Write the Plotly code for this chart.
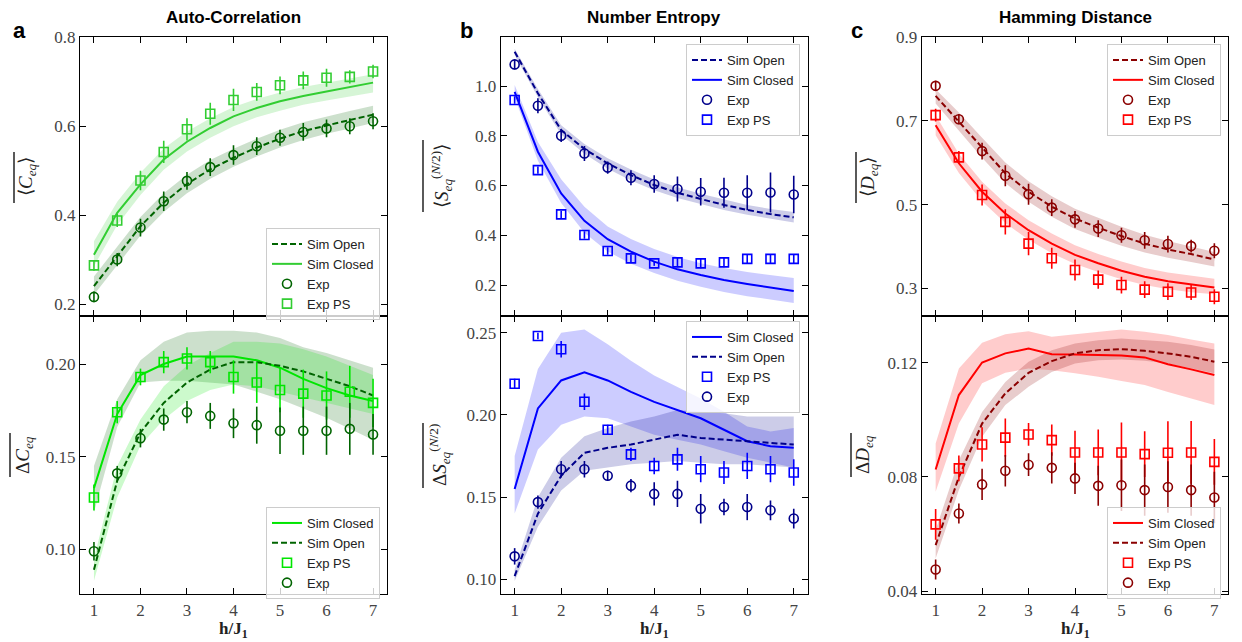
import plotly.graph_objects as go

# page body has an 8px default margin: size the figure to fill the rest of the window
OFF = 8
W, H = 1242 - OFF, 642 - OFF

# ---------------- data ----------------
h = [1, 1.5, 2, 2.5, 3, 3.5, 4, 4.5, 5, 5.5, 6, 6.5, 7]

# Panel a (Auto-Correlation)
a_top_exp = [0.216, 0.300, 0.372, 0.431, 0.477, 0.508, 0.535, 0.555, 0.574, 0.587, 0.595, 0.600, 0.611]
a_top_exp_err = [0.012, 0.015, 0.02, 0.022, 0.02, 0.02, 0.022, 0.02, 0.018, 0.02, 0.02, 0.018, 0.018]
a_top_ps = [0.287, 0.388, 0.478, 0.542, 0.593, 0.628, 0.659, 0.677, 0.692, 0.703, 0.709, 0.711, 0.723]
a_top_ps_err = [0.012, 0.015, 0.022, 0.025, 0.025, 0.025, 0.025, 0.02, 0.02, 0.02, 0.02, 0.015, 0.015]
a_top_closed = [0.311, 0.405, 0.469, 0.525, 0.565, 0.596, 0.622, 0.641, 0.656, 0.668, 0.678, 0.688, 0.698]
a_top_closed_lo = [0.285, 0.378, 0.445, 0.502, 0.543, 0.574, 0.600, 0.620, 0.635, 0.648, 0.658, 0.667, 0.676]
a_top_closed_hi = [0.341, 0.430, 0.495, 0.550, 0.588, 0.618, 0.643, 0.661, 0.676, 0.688, 0.698, 0.707, 0.717]
a_top_open = [0.240, 0.307, 0.375, 0.428, 0.470, 0.503, 0.529, 0.552, 0.572, 0.589, 0.602, 0.614, 0.626]
a_top_open_lo = [0.221, 0.287, 0.354, 0.407, 0.449, 0.482, 0.509, 0.532, 0.552, 0.569, 0.583, 0.595, 0.607]
a_top_open_hi = [0.262, 0.328, 0.396, 0.449, 0.491, 0.524, 0.549, 0.572, 0.592, 0.609, 0.622, 0.634, 0.646]

a_bot_ps = [0.128, 0.174, 0.193, 0.201, 0.203, 0.201, 0.193, 0.190, 0.186, 0.184, 0.183, 0.185, 0.179]
a_bot_ps_err = [0.007, 0.006, 0.0045, 0.006, 0.006, 0.006, 0.009, 0.011, 0.012, 0.013, 0.013, 0.014, 0.013]
a_bot_exp = [0.099, 0.141, 0.160, 0.170, 0.174, 0.172, 0.168, 0.167, 0.164, 0.164, 0.164, 0.165, 0.162]
a_bot_exp_err = [0.005, 0.004, 0.005, 0.006, 0.006, 0.007, 0.008, 0.010, 0.0125, 0.013, 0.013, 0.014, 0.011]
a_bot_closed = [0.133, 0.173, 0.194, 0.200, 0.204, 0.204, 0.204, 0.202, 0.198, 0.192, 0.187, 0.183, 0.180]
a_bot_closed_lo = [0.120, 0.166, 0.190, 0.191, 0.191, 0.190, 0.189, 0.185, 0.181, 0.176, 0.171, 0.165, 0.159]
a_bot_closed_hi = [0.145, 0.181, 0.202, 0.212, 0.217, 0.218, 0.218, 0.217, 0.214, 0.209, 0.206, 0.202, 0.198]
a_bot_open = [0.089, 0.137, 0.163, 0.179, 0.190, 0.197, 0.201, 0.201, 0.199, 0.196, 0.192, 0.188, 0.183]
a_bot_open_lo = [0.083, 0.128, 0.156, 0.170, 0.180, 0.186, 0.189, 0.188, 0.185, 0.182, 0.179, 0.176, 0.173]
a_bot_open_hi = [0.095, 0.145, 0.170, 0.188, 0.199, 0.206, 0.212, 0.212, 0.211, 0.208, 0.204, 0.199, 0.194]

# Panel b (Number Entropy)
b_top_exp = [1.087, 0.921, 0.800, 0.729, 0.672, 0.631, 0.606, 0.586, 0.575, 0.571, 0.571, 0.572, 0.564]
b_top_exp_err = [0.02, 0.03, 0.025, 0.03, 0.025, 0.03, 0.035, 0.05, 0.055, 0.06, 0.07, 0.08, 0.075]
b_top_ps = [0.944, 0.662, 0.484, 0.401, 0.337, 0.307, 0.287, 0.291, 0.287, 0.291, 0.305, 0.305, 0.305]
b_top_ps_err = [0.015, 0.015, 0.015, 0.015, 0.015, 0.015, 0.01, 0.02, 0.02, 0.02, 0.02, 0.02, 0.02]
b_top_open = [1.138, 0.971, 0.823, 0.747, 0.689, 0.642, 0.602, 0.571, 0.546, 0.522, 0.502, 0.485, 0.472]
b_top_open_lo = [1.125, 0.955, 0.805, 0.728, 0.667, 0.620, 0.581, 0.550, 0.526, 0.502, 0.483, 0.466, 0.451]
b_top_open_hi = [1.150, 0.988, 0.842, 0.767, 0.710, 0.664, 0.624, 0.593, 0.567, 0.543, 0.522, 0.506, 0.494]
b_top_closed = [0.977, 0.736, 0.568, 0.458, 0.384, 0.334, 0.294, 0.263, 0.240, 0.220, 0.204, 0.191, 0.176]
b_top_closed_lo = [0.955, 0.700, 0.530, 0.410, 0.335, 0.285, 0.248, 0.217, 0.193, 0.172, 0.155, 0.142, 0.128]
b_top_closed_hi = [1.004, 0.775, 0.625, 0.515, 0.435, 0.385, 0.345, 0.313, 0.288, 0.268, 0.252, 0.240, 0.228]

b_bot_ps = [0.219, 0.248, 0.240, 0.208, 0.191, 0.176, 0.169, 0.173, 0.167, 0.165, 0.169, 0.167, 0.165]
b_bot_ps_err = [0.003, 0.002, 0.005, 0.005, 0.003, 0.004, 0.005, 0.007, 0.008, 0.007, 0.008, 0.008, 0.008]
b_bot_exp = [0.114, 0.147, 0.167, 0.167, 0.163, 0.157, 0.152, 0.152, 0.143, 0.144, 0.144, 0.142, 0.137]
b_bot_exp_err = [0.005, 0.004, 0.005, 0.005, 0.003, 0.004, 0.007, 0.008, 0.009, 0.005, 0.008, 0.006, 0.006]
b_bot_closed = [0.155, 0.204, 0.221, 0.226, 0.221, 0.214, 0.208, 0.203, 0.198, 0.191, 0.184, 0.181, 0.180]
b_bot_closed_lo = [0.140, 0.179, 0.194, 0.199, 0.198, 0.193, 0.188, 0.185, 0.182, 0.178, 0.174, 0.171, 0.168]
b_bot_closed_hi = [0.175, 0.228, 0.250, 0.252, 0.243, 0.233, 0.224, 0.217, 0.210, 0.202, 0.193, 0.190, 0.192]
b_bot_open = [0.102, 0.140, 0.163, 0.177, 0.180, 0.182, 0.185, 0.188, 0.186, 0.185, 0.184, 0.183, 0.182]
b_bot_open_lo = [0.099, 0.132, 0.154, 0.166, 0.168, 0.170, 0.171, 0.172, 0.171, 0.170, 0.170, 0.169, 0.168]
b_bot_open_hi = [0.106, 0.150, 0.174, 0.187, 0.192, 0.196, 0.199, 0.203, 0.202, 0.201, 0.199, 0.199, 0.199]

# Panel c (Hamming Distance)
c_top_exp = [0.784, 0.704, 0.628, 0.569, 0.525, 0.493, 0.465, 0.443, 0.427, 0.415, 0.406, 0.401, 0.390]
c_top_exp_err = [0.012, 0.012, 0.02, 0.025, 0.025, 0.02, 0.02, 0.02, 0.018, 0.02, 0.02, 0.015, 0.018]
c_top_ps = [0.714, 0.613, 0.523, 0.459, 0.407, 0.372, 0.344, 0.321, 0.308, 0.297, 0.292, 0.290, 0.280]
c_top_ps_err = [0.015, 0.015, 0.025, 0.03, 0.028, 0.025, 0.025, 0.022, 0.02, 0.02, 0.02, 0.018, 0.018]
c_top_open = [0.760, 0.698, 0.635, 0.575, 0.531, 0.495, 0.467, 0.445, 0.425, 0.407, 0.393, 0.382, 0.369]
c_top_open_lo = [0.742, 0.676, 0.612, 0.552, 0.507, 0.471, 0.442, 0.421, 0.402, 0.386, 0.373, 0.363, 0.352]
c_top_open_hi = [0.776, 0.720, 0.660, 0.601, 0.556, 0.520, 0.490, 0.468, 0.447, 0.428, 0.413, 0.400, 0.387]
c_top_closed = [0.690, 0.599, 0.531, 0.479, 0.439, 0.407, 0.380, 0.360, 0.342, 0.328, 0.317, 0.309, 0.302]
c_top_closed_lo = [0.666, 0.576, 0.508, 0.456, 0.416, 0.384, 0.358, 0.339, 0.322, 0.308, 0.298, 0.291, 0.286]
c_top_closed_hi = [0.714, 0.622, 0.555, 0.503, 0.463, 0.431, 0.403, 0.382, 0.364, 0.349, 0.338, 0.330, 0.323]

c_bot_ps = [0.0634, 0.083, 0.0914, 0.0938, 0.0949, 0.0929, 0.0886, 0.0886, 0.0886, 0.088, 0.0885, 0.0886, 0.0853]
c_bot_ps_err = [0.0054, 0.0045, 0.006, 0.0067, 0.004, 0.0055, 0.0076, 0.008, 0.0105, 0.008, 0.011, 0.011, 0.008]
c_bot_exp = [0.0476, 0.0672, 0.0774, 0.0822, 0.0843, 0.0832, 0.0795, 0.0769, 0.0771, 0.0754, 0.0765, 0.0754, 0.0728]
c_bot_exp_err = [0.0035, 0.0035, 0.0055, 0.0055, 0.004, 0.0055, 0.0055, 0.007, 0.009, 0.009, 0.009, 0.009, 0.009]
c_bot_closed = [0.0826, 0.1087, 0.1201, 0.1233, 0.125, 0.123, 0.1229, 0.1227, 0.1226, 0.1219, 0.1195, 0.1177, 0.1157]
c_bot_closed_lo = [0.0748, 0.0987, 0.1128, 0.1165, 0.118, 0.1174, 0.1163, 0.1151, 0.1136, 0.1122, 0.1098, 0.1075, 0.1052]
c_bot_closed_hi = [0.0917, 0.118, 0.127, 0.130, 0.1311, 0.1291, 0.130, 0.1309, 0.1317, 0.1309, 0.1297, 0.1282, 0.1268]
c_bot_open = [0.0561, 0.080, 0.0987, 0.1093, 0.1165, 0.1206, 0.1233, 0.1244, 0.1248, 0.1242, 0.1233, 0.1221, 0.1204]
c_bot_open_lo = [0.0514, 0.0754, 0.0941, 0.1052, 0.1116, 0.1168, 0.1198, 0.1209, 0.1212, 0.1207, 0.1198, 0.118, 0.1163]
c_bot_open_hi = [0.0614, 0.0859, 0.1028, 0.1133, 0.1204, 0.1244, 0.1268, 0.1279, 0.1285, 0.1279, 0.1274, 0.1262, 0.1247]

x_ticks = [1, 2, 3, 4, 5, 6, 7]
titles = ["Auto-Correlation", "Number Entropy", "Hamming Distance"]
letters = ["a", "b", "c"]

# ---------------- layout helpers (window pixels -> paper fractions) ----------------
def px_x(p):
    return (p - OFF) / W

def px_y(p):
    return 1 - (p - OFF) / H

col_px = [(80, 387), (500.7, 807.7), (921.7, 1228.3)]
row_px = [(37.3, 316), (316, 594)]

SERIF = "Liberation Serif"
SANS = "Liberation Sans"

fig = go.Figure()

def axis_names(col, row):
    i = row * 3 + col + 1
    return ("x" if i == 1 else f"x{i}"), ("y" if i == 1 else f"y{i}"), i

def add_band(col, row, lo, hi, fillcolor):
    xa, ya, _ = axis_names(col, row)
    fig.add_trace(go.Scatter(x=h, y=lo, mode="lines", line=dict(width=0), hoverinfo="skip",
                             showlegend=False, xaxis=xa, yaxis=ya))
    fig.add_trace(go.Scatter(x=h, y=hi, mode="lines", line=dict(width=0), fill="tonexty",
                             fillcolor=fillcolor, hoverinfo="skip", showlegend=False,
                             xaxis=xa, yaxis=ya))

def add_line(col, row, y, color, dash, name, legend):
    xa, ya, _ = axis_names(col, row)
    fig.add_trace(go.Scatter(x=h, y=y, mode="lines", name=name, legend=legend,
                             line=dict(color=color, width=2, dash=dash),
                             xaxis=xa, yaxis=ya))

def add_exp(col, row, y, err, color, symbol, name, legend):
    xa, ya, _ = axis_names(col, row)
    fig.add_trace(go.Scatter(x=h, y=y, mode="markers", name=name, legend=legend,
                             marker=dict(symbol=symbol, size=9, color=color,
                                         line=dict(color=color, width=1.6)),
                             error_y=dict(type="data", array=err, visible=True, color=color,
                                          thickness=1.6, width=0),
                             xaxis=xa, yaxis=ya))

DASH = "6px,3px"

# ---- Panel a ----
a_dark, a_light, a_bright = "#006400", "#32cd32", "#00e600"
add_band(0, 0, a_top_closed_lo, a_top_closed_hi, "rgba(50,205,50,0.2)")
add_band(0, 0, a_top_open_lo, a_top_open_hi, "rgba(0,100,0,0.2)")
add_line(0, 0, a_top_open, a_dark, DASH, "Sim Open", "legend")
add_line(0, 0, a_top_closed, a_light, "solid", "Sim Closed", "legend")
add_exp(0, 0, a_top_exp, a_top_exp_err, a_dark, "circle-open", "Exp", "legend")
add_exp(0, 0, a_top_ps, a_top_ps_err, a_light, "square-open", "Exp PS", "legend")

add_band(0, 1, a_bot_closed_lo, a_bot_closed_hi, "rgba(0,100,0,0.2)")
add_band(0, 1, a_bot_open_lo, a_bot_open_hi, "rgba(0,230,0,0.2)")
add_line(0, 1, a_bot_closed, a_bright, "solid", "Sim Closed", "legend2")
add_line(0, 1, a_bot_open, a_dark, DASH, "Sim Open", "legend2")
add_exp(0, 1, a_bot_ps, a_bot_ps_err, a_bright, "square-open", "Exp PS", "legend2")
add_exp(0, 1, a_bot_exp, a_bot_exp_err, a_dark, "circle-open", "Exp", "legend2")

# ---- Panel b ----
b_dark, b_light = "#00008b", "#0000ff"
add_band(1, 0, b_top_closed_lo, b_top_closed_hi, "rgba(0,0,255,0.2)")
add_band(1, 0, b_top_open_lo, b_top_open_hi, "rgba(0,0,139,0.2)")
add_line(1, 0, b_top_open, b_dark, DASH, "Sim Open", "legend3")
add_line(1, 0, b_top_closed, b_light, "solid", "Sim Closed", "legend3")
add_exp(1, 0, b_top_exp, b_top_exp_err, b_dark, "circle-open", "Exp", "legend3")
add_exp(1, 0, b_top_ps, b_top_ps_err, b_light, "square-open", "Exp PS", "legend3")

add_band(1, 1, b_bot_closed_lo, b_bot_closed_hi, "rgba(0,0,255,0.2)")
add_band(1, 1, b_bot_open_lo, b_bot_open_hi, "rgba(0,0,139,0.2)")
add_line(1, 1, b_bot_closed, b_light, "solid", "Sim Closed", "legend4")
add_line(1, 1, b_bot_open, b_dark, DASH, "Sim Open", "legend4")
add_exp(1, 1, b_bot_ps, b_bot_ps_err, b_light, "square-open", "Exp PS", "legend4")
add_exp(1, 1, b_bot_exp, b_bot_exp_err, b_dark, "circle-open", "Exp", "legend4")

# ---- Panel c ----
c_dark, c_light = "#8b0000", "#ff0000"
add_band(2, 0, c_top_closed_lo, c_top_closed_hi, "rgba(255,0,0,0.2)")
add_band(2, 0, c_top_open_lo, c_top_open_hi, "rgba(139,0,0,0.2)")
add_line(2, 0, c_top_open, c_dark, DASH, "Sim Open", "legend5")
add_line(2, 0, c_top_closed, c_light, "solid", "Sim Closed", "legend5")
add_exp(2, 0, c_top_exp, c_top_exp_err, c_dark, "circle-open", "Exp", "legend5")
add_exp(2, 0, c_top_ps, c_top_ps_err, c_light, "square-open", "Exp PS", "legend5")

add_band(2, 1, c_bot_closed_lo, c_bot_closed_hi, "rgba(255,0,0,0.2)")
add_band(2, 1, c_bot_open_lo, c_bot_open_hi, "rgba(139,0,0,0.2)")
add_line(2, 1, c_bot_closed, c_light, "solid", "Sim Closed", "legend6")
add_line(2, 1, c_bot_open, c_dark, DASH, "Sim Open", "legend6")
add_exp(2, 1, c_bot_ps, c_bot_ps_err, c_light, "square-open", "Exp PS", "legend6")
add_exp(2, 1, c_bot_exp, c_bot_exp_err, c_dark, "circle-open", "Exp", "legend6")

# ---------------- axes ----------------
y_ranges = {
    (0, 0): ([0.173, 0.8], [0.2, 0.4, 0.6, 0.8], ".1f"),
    (0, 1): ([0.0759, 0.2259], [0.10, 0.15, 0.20], ".2f"),
    (1, 0): ([0.0754, 1.196], [0.2, 0.4, 0.6, 0.8, 1.0], ".1f"),
    (1, 1): ([0.0911, 0.2602], [0.10, 0.15, 0.20, 0.25], ".2f"),
    (2, 0): ([0.234, 0.9], [0.3, 0.5, 0.7, 0.9], ".1f"),
    (2, 1): ([0.039, 0.1364], [0.04, 0.08, 0.12], ".2f"),
}

common = dict(showline=True, linecolor="black", linewidth=1.3, mirror="ticks",
              ticks="inside", ticklen=6, tickwidth=1.3, tickcolor="black",
              showgrid=False, zeroline=False, automargin=False,
              tickfont=dict(family=SERIF, size=17, color="#444"))

layout_axes = {}
for col in range(3):
    for row in range(2):
        xa, ya, i = axis_names(col, row)
        xkey = "xaxis" if i == 1 else f"xaxis{i}"
        ykey = "yaxis" if i == 1 else f"yaxis{i}"
        x0, x1 = col_px[col]
        ytop, ybot = row_px[row]
        yr, yt, yf = y_ranges[(col, row)]
        layout_axes[xkey] = dict(common, domain=[px_x(x0), px_x(x1)], anchor=ya,
                                 range=[0.7, 7.3], tickvals=x_ticks,
                                 showticklabels=(row == 1))
        layout_axes[ykey] = dict(common, domain=[px_y(ybot), px_y(ytop)], anchor=xa,
                                 range=yr, tickvals=yt, tickformat=yf)

fig.update_layout(**layout_axes)

# ---------------- legends ----------------
leg_common = dict(xanchor="right", yanchor="top", bgcolor="rgba(255,255,255,0.8)",
                  bordercolor="#cccccc", borderwidth=1, traceorder="normal",
                  font=dict(family=SANS, size=13, color="#222"), itemwidth=30)
leg_pos = {
    "legend": (380, 228), "legend2": (380, 507),
    "legend3": (800, 44), "legend4": (800, 321),
    "legend5": (1221, 44), "legend6": (1221, 507),
}
for k, (lx, ly) in leg_pos.items():
    fig.update_layout(**{k: dict(leg_common, x=px_x(lx), y=px_y(ly))})

# ---------------- annotations ----------------
def text_at(txt, x, y, font, angle=0):
    return dict(text=txt, x=px_x(x), y=px_y(y), xref="paper", yref="paper",
                xanchor="center", yanchor="middle", showarrow=False,
                textangle=angle, font=font)

ann = []
title_x = [233, 654, 1075]
for t, tx in zip(titles, title_x):
    ann.append(text_at(f"<b>{t}</b>", tx, 17, dict(family=SANS, size=17, color="black")))
for l, (lx, ly) in zip(letters, [(19, 31), (466, 30), (857, 31)]):
    ann.append(text_at(f"<b>{l}</b>", lx, ly, dict(family=SANS, size=22, color="black")))
for tx in title_x:
    ann.append(text_at("<b>h/J<sub>1</sub></b>", tx, 630,
                       dict(family=SERIF, size=17, color="#222")))

ylabels = [
    ("⟨<i>C</i><sub><i>eq</i></sub>⟩", 27, 177, (14, 152, 203)),
    ("Δ<i>C</i><sub><i>eq</i></sub>", 24, 455, (10, 433, 477)),
    ("⟨<i>S</i><sub><i>eq</i></sub><sup>(<i>N</i>/2)</sup>⟩", 441, 176, (423, 140, 212)),
    ("Δ<i>S</i><sub><i>eq</i></sub><sup>(<i>N</i>/2)</sup>", 440, 455, (423, 423, 488)),
    ("⟨<i>D</i><sub><i>eq</i></sub>⟩", 869, 177, (856, 152, 203)),
    ("Δ<i>D</i><sub><i>eq</i></sub>", 864, 455, (851, 433, 477)),
]
shapes = []
for txt, lx, ly, (ox, oy0, oy1) in ylabels:
    ann.append(text_at(txt, lx, ly, dict(family=SERIF, size=19, color="#222"), angle=-90))
    shapes.append(dict(type="line", xref="paper", yref="paper",
                       x0=px_x(ox), x1=px_x(ox), y0=px_y(oy0), y1=px_y(oy1),
                       line=dict(color="black", width=1.3)))

fig.update_layout(annotations=ann, shapes=shapes, width=W, height=H,
                  margin=dict(l=0, r=0, t=0, b=0, pad=0, autoexpand=False),
                  plot_bgcolor="white", paper_bgcolor="white", showlegend=True)

fig.write_html("out.html")
